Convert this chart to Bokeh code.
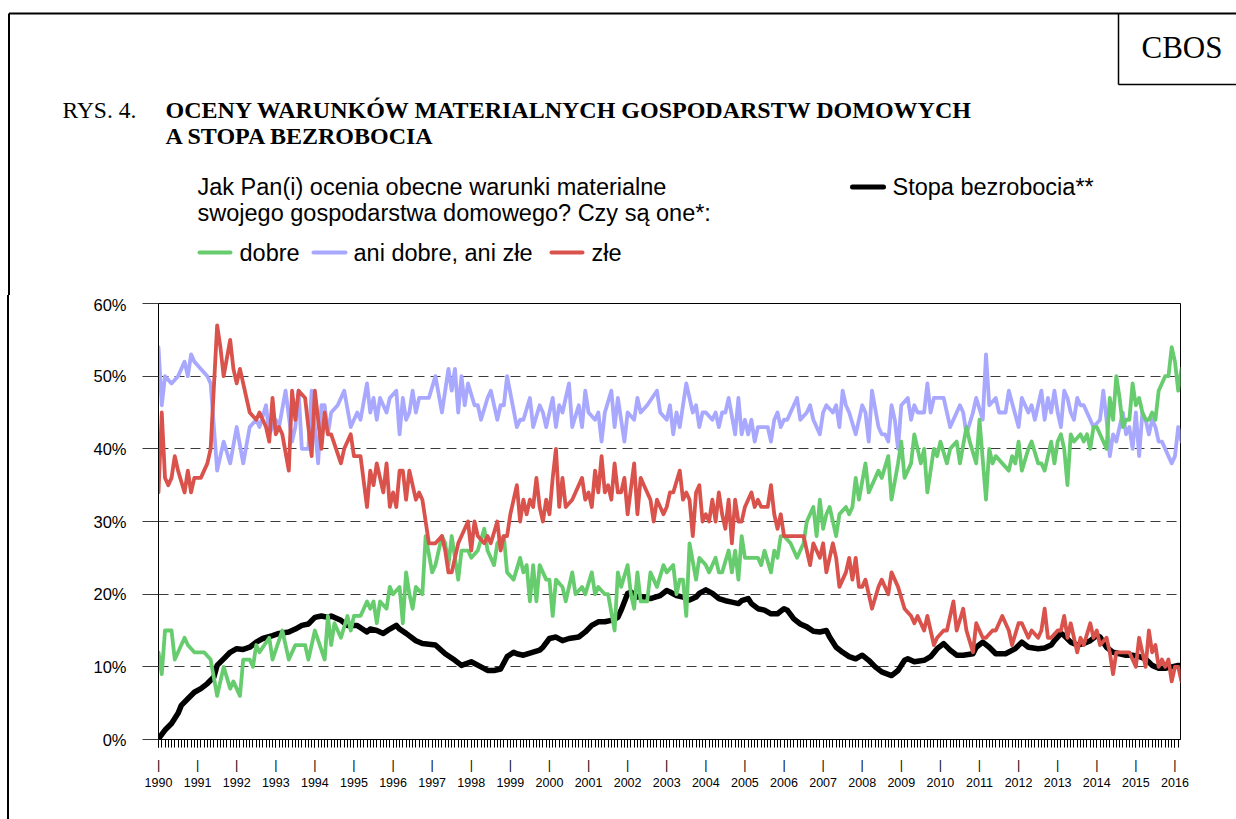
from bokeh.plotting import figure
from bokeh.models import Range1d, FixedTicker, Div
from bokeh.layouts import column, row
from bokeh.core.properties import value
from bokeh.embed import file_html
from bokeh.resources import INLINE

# months counted from January 1990 (0 = Jan 1990), values in percent
DOBRE = [(0,12),(1,9),(2,15),(4,15),(5,11),(8,14),(9,13),(11,12),(14,12),(16,11),(18,6),(20,10),(22,7),(23,8),(25,6),(26,11),(28,11),(29,10),(30,13),(31,12),(34,14),(35,11),(38,15),(40,11),(42,13),(45,13),(46,11),(48,15),
(51,11),(52,17),(53,13),(54,16),(56,14),(58,17),(59,15),(60,17),(62,17),(64,19),(65,18),(66,19),(67,16),(68,19),(70,18),(71,21),(72,20),(74,21),(75,16),(76,23),(77,20),(78,18),(79,21),(81,20),(82,28),(84,23),(85,24),(87,28),(88,27),(89,24),(90,28),(92,22),(93,26),(95,26),(96,25),(98,26),(100,29),(101,26),(103,24),(104,27),(106,28),(107,23),
(109,22),(111,25),(112,23),(113,24),(114,19),(115,24),(116,19),(117,24),(119,22),(120,22),(121,17),(122,22),(124,21),(125,19),(127,23),(128,20),(130,21),(131,20),(133,23),(134,20),(135,21),(137,20),(138,20),(140,15),(141,23),(142,21),(144,24),(145,20),(146,18),(147,23),(148,19),(150,19),(151,23),(153,21),(155,24),(156,23),(158,24),(159,20),(160,22),(161,22),(162,17),(163,27),
(165,22),(166,25),(168,24),(169,23),(171,25),(172,23),(173,23),(175,26),(176,23),(177,26),(178,22),(179,28),(180,25),(182,25),(184,25),(185,24),(186,26),(188,23),(189,26),(190,25),(191,28),(192,28),(194,27),(196,25),(198,27),(199,30),(201,32),(202,28),(203,33),(204,29),(205,31),(206,32),(208,28),(209,31),(211,32),(212,31),(213,32),(214,36),(215,33),(217,38),(218,34),
(221,37),(222,36),(224,39),(225,33),(227,38),(228,41),(229,36),(231,38),(232,42),(234,38),(235,40),(236,34),(238,40),(239,39),(240,41),(242,38),(243,40),(245,41),(246,38),(248,43),(249,41),(251,38),(252,44),(254,33),(255,40),(256,38),(257,39),(259,38),(261,37),(262,39),(263,38),(264,41),(265,37),(267,40),(268,41),(270,38),(271,38),(272,37),(274,41),
(275,38),(276,41),(277,42),(278,40),(279,35),(280,42),(281,41),(283,42),(284,41),(285,42),(286,40),(287,43),(288,43),(290,41),(291,40),(292,47),(293,44),(294,50),(295,47),(296,43),(297,44),(298,44),(299,49),(300,46),(301,47),(302,45),(303,44),(304,44),(305,45),(306,44),(307,48),(308,49),(309,50),(310,50),(311,54),(312,52),(313,48),(314,51)]

ANI = [(0,54),(1,46),(2,50),(4,49),(6,50),(8,52),(9,50),(10,53),(11,52),(13,51),(15,50),(16,49),(18,37),(20,41),(22,38),(24,43),(26,38),(28,43),(30,44),(31,43),(33,46),(34,42),(36,44),(37,43),(39,48),(41,41),(42,43),(43,48),(44,40),(46,40),(47,48),(49,38),(50,46),(51,46),(52,42),(53,45),(55,46),(57,48),(59,43),(61,45),(62,44),(64,49),(65,45),(66,47),(67,44),(68,47),(70,45),(71,47),(73,48),(74,42),(75,47),(76,44),(77,45),(78,48),(79,45),(80,47),(83,47),(85,50),(87,45),(89,51),(90,48),(91,51),(92,45),(93,50),(94,46),(95,49),(97,46),(98,46),(99,44),(101,47),(102,48),(104,44),(105,46),(106,46),(107,50),
(110,43),(111,44),(112,44),(114,47),(115,43),(117,46),(118,45),(119,43),(121,47),(122,43),(123,46),(124,45),(126,49),(127,43),(129,46),(130,43),(131,48),(132,45),(134,44),(135,45),(136,41),(137,45),(139,48),(140,43),(141,47),(143,41),(144,45),(146,44),(147,47),(148,45),(150,46),(153,48),(154,45),(156,44),(157,46),(158,42),(159,45),(160,43),(162,49),(163,47),(164,45),(165,46),(166,43),(167,45),(168,45),(170,44),(171,45),(172,43),(173,45),(174,45),(175,47),(177,42),(178,47),(179,42),(180,44),(181,42),(182,44),(183,41),(184,43),(186,43),(187,43),(188,41),(189,44),(190,45),(191,43),(192,44),(193,44),(195,46),(196,47),(197,44),(199,45),(200,46),(201,44),(203,42),(204,45),(205,46),(207,45),(208,46),(209,43),(210,48),(211,46),(212,45),(214,42),(216,46),(217,45),(218,41),(219,48),
(221,43),(222,42),(223,42),(224,41),(225,46),(226,44),(227,40),(228,46),(230,47),(231,44),(232,46),(233,45),(235,45),(236,49),(237,45),(238,47),(240,47),(241,47),(243,43),(244,44),(246,46),(247,45),(248,42),(250,45),(251,47),(253,44),(254,53),(255,46),(257,47),(258,45),(260,45),(261,48),(264,43),(265,47),(267,45),(268,46),(269,44),(271,48),(272,44),(273,47),(274,45),(275,48),(276,45),(277,43),(278,48),(279,47),(280,45),(281,44),(282,47),(283,46),(284,46),(286,44),(287,43),(289,44),(290,48),(291,44),(292,39),(293,42),(294,41),(295,43),(296,45),(297,42),(298,43),(299,40),(300,45),(301,39),(302,45),(303,44),(304,42),(305,44),(306,43),(307,41),(308,41),(309,40),(310,39),(311,38),(312,39),(313,43),(314,41)]

ZLE = [(0,34),(1,45),(2,36),(3,35),(4,36),(5,39),(6,37),(8,34),(9,37),(10,34),(11,36),(13,36),(14,37),(15,38),(16,40),(18,57),(19,54),(20,50),(22,55),(23,51),(24,49),(25,51),(28,45),(30,44),(31,45),(33,43),(34,41),(35,47),(36,42),(37,43),(38,42),(40,37),(41,48),(42,44),(43,48),(45,47),(47,39),(48,48),(50,40),(51,45),(52,42),(53,42),(56,38),(57,40),(59,42),(60,39),(62,39),(64,32),(65,37),(66,35),(67,38),(68,36),(69,34),(70,38),(71,32),(72,34),(73,32),(74,37),(75,37),(76,33),(77,37),(79,33),(80,34),(81,33),(82,30),(83,27),(85,27),(87,28),(88,26),(89,23),(90,23),(92,27),(93,28),(95,30),(96,26),(97,30),(98,28),(100,27),(101,28),(102,27),(104,30),(105,26),(106,28),(107,28),
(108,31),(110,35),(111,30),(112,33),(113,31),(114,33),(115,32),(116,36),(117,32),(118,30),(119,33),(120,31),(121,36),(122,40),(123,32),(124,36),(125,32),(127,33),(128,34),(130,36),(131,33),(132,34),(133,32),(134,37),(135,34),(136,39),(137,34),(138,35),(139,33),(140,38),(141,34),(142,34),(143,36),(144,31),(146,38),(147,31),(148,36),(149,35),(151,33),(152,30),(153,33),(154,32),(155,31),(156,32),(157,34),(158,34),(160,37),(161,33),(162,34),(163,33),(164,28),
(165,34),(166,35),(167,30),(168,31),(169,30),(170,33),(171,30),(172,34),(173,31),(174,29),(175,33),(176,27),(177,33),(178,30),(179,30),(180,32),(181,33),(182,34),(183,32),(184,33),(185,32),(187,32),(188,35),(189,31),(190,29),(191,31),(192,28),(194,28),(196,28),(198,28),(200,24),(201,27),(203,25),(204,27),(205,23),(207,27),(208,25),(209,21),(211,23),(212,25),(213,22),(214,25),(215,21),(216,21),(217,22),(219,18),
(221,21),(222,22),(224,20),(225,23),(227,21),(229,18),(231,17),(232,16),(233,17),(235,15),(236,17),(238,13),(239,14),(241,15),(242,15),(244,19),(245,15),(247,18),(248,15),(250,12),(251,16),(253,14),(254,14),(256,15),(257,15),(259,17),(261,15),(262,13),(264,16),(265,16),(267,14),(268,15),(270,14),(271,15),(272,18),(273,14),(274,14),
(276,15),(277,15),(278,17),(279,14),(280,16),(281,14),(282,12),(283,14),(284,13),(286,16),(287,14),(288,15),(289,13),(291,14),(292,12),(293,9),(294,12),(295,12),(297,12),(298,12),(299,11),(300,10),(301,14),(302,12),(303,10),(304,15),(305,12),(306,13),(307,10),(308,11),(309,10),(310,11),(311,8),(312,10),(313,10),(314,8)]

BEZROBOCIE = [(0,0.1),(2,1.3),(4,2.2),(6,3.6),(7,4.7),(9,5.6),(11,6.5),(13,7.0),(15,7.7),(17,8.6),(18,10.2),(20,11.1),(22,12.0),(24,12.5),(26,12.4),(28,12.7),(30,13.4),(32,13.9),(35,14.3),(37,14.6),(40,14.8),(42,15.2),(44,15.7),(46,15.9),(48,16.8),(50,17.0),(52,16.8),(53,17.0),(56,16.4),(58,15.7),(61,15.7),(64,14.8),(65,15.2),(67,15.0),(69,14.6),(71,15.2),(73,15.7),(74,15.2),(76,14.6),(79,13.6),(81,13.2),(85,13.0),(88,11.8),(91,10.9),(93,10.2),(96,10.7),(99,10.0),(101,9.5),(103,9.5),(105,9.7),(107,11.4),(109,12.0),(110,11.8),(112,11.6),(114,11.9),(117,12.3),(118,12.7),(120,13.9),(122,14.1),(124,13.6),(126,13.9),(129,14.1),(131,14.8),(133,15.7),(135,16.2),(137,16.2),(139,16.4),(141,16.8),(142,17.8),(144,20.1),(145,20.3),(147,19.6),(149,19.6),(151,19.4),(154,19.8),(156,20.5),(157,20.3),(159,19.8),(161,19.6),(163,19.2),(165,19.6),(166,20.1),(168,20.6),(170,20.1),(172,19.4),(174,19.1),(176,18.9),(178,18.7),(179,19.1),(181,19.4),(182,18.7),(184,18.0),(186,17.8),(188,17.3),(190,17.3),(192,18.0),(193,17.8),(195,16.6),(197,15.9),(199,15.5),(201,14.9),(203,14.8),(205,15.0),(206,14.1),(208,12.7),(210,12.0),(212,11.4),(214,11.1),(216,11.6),(218,10.9),(220,10.0),(222,9.3),(225,8.8),(227,9.5),(229,10.9),(230,11.1),(232,10.7),(235,10.9),(237,11.4),(239,12.5),(241,13.2),(243,12.3),(245,11.6),(247,11.6),(250,11.8),(251,12.7),(253,13.4),(255,12.7),(257,11.8),(260,11.8),(263,12.5),(265,13.4),(267,12.7),(270,12.5),(272,12.6),(274,13.0),(275,13.6),(277,14.6),(278,14.3),(280,13.4),(282,13.0),(284,13.2),(286,13.6),(288,14.3),(289,14.1),(291,12.7),(293,12.0),(295,11.8),(297,11.6),(299,11.6),(301,11.4),(303,11.1),(305,10.2),(307,9.8),(309,9.8),(311,10.0),(313,10.2),(314,10.0)]

YEARS = list(range(1990, 2017))
YEAR_TICKS = [12 * i for i in range(len(YEARS))]
MONTH_TICKS = list(range(0, 314))
Y_TICKS = [0, 10, 20, 30, 40, 50, 60]
Y_LABELS = ["0%", "10%", "20%", "30%", "40%", "50%", "60%"]

C_GREEN = "#66cc6e"
C_LAV = "#a8a8ff"
C_RED = "#d9534c"
C_BLACK = "#000000"
SANS = "Liberation Sans"
SERIF = "Liberation Serif"

W = 1236
HEAD_H = 295
STRIP_W = 10
CHART_H = 819 - HEAD_H

# ---------- header (page pixel coordinates) ----------
h = figure(width=W, height=HEAD_H, x_range=Range1d(0, W), y_range=Range1d(HEAD_H, 0),
           x_axis_type=None, y_axis_type=None, output_backend="svg", toolbar_location=None,
           min_border=0)
h.outline_line_color = None
h.grid.visible = False
h.background_fill_color = "white"
h.border_fill_color = "white"
h.segment(x0=[8.5, 8.5, 1118, 1118], y0=[13, 13, 13, 84], x1=[W, 8.5, 1118, W], y1=[13, HEAD_H, 84, 84],
          line_color="black", line_width=[2, 2, 1.5, 1.5])


def htext(x, y, s, font=SANS, size="23.5px", style="normal"):
    h.text(x=[x], y=[y], text=[s], text_font=value(font), text_font_size=value(size),
           text_font_style=value(style), text_color="black", text_baseline="middle", text_align="left")


htext(1141, 47, "CBOS", font=SERIF, size="31px")
htext(62, 109.5, "RYS. 4.", font=SERIF, size="23.5px")
htext(165, 109.5, "OCENY WARUNKÓW MATERIALNYCH GOSPODARSTW DOMOWYCH", font=SERIF, size="24px", style="bold")
htext(165, 135.5, "A STOPA BEZROBOCIA", font=SERIF, size="24px", style="bold")
htext(197, 186.5, "Jak Pan(i) ocenia obecne warunki materialne")
htext(197, 212.5, "swojego gospodarstwa domowego? Czy są one*:")
htext(892, 186.5, "Stopa bezrobocia**")
htext(239, 252, "dobre")
htext(353, 252, "ani dobre, ani złe")
htext(591, 252, "złe")
h.segment(x0=[852, 199, 313, 551], y0=[186.5, 252, 252, 252], x1=[883, 230, 345, 582], y1=[186.5, 252, 252, 252],
          line_color=[C_BLACK, C_GREEN, C_LAV, C_RED], line_width=[5, 4, 4, 4], line_cap="round")

# ---------- left strip carrying the frame line ----------
strip = Div(text="", width=STRIP_W, height=CHART_H, margin=0,
            styles={"background": "linear-gradient(to right, #ffffff 0px, #ffffff 7.5px, #000000 7.5px, #000000 9.5px, #ffffff 9.5px)"})

# ---------- chart ----------
p = figure(width=W - STRIP_W, height=CHART_H, x_range=Range1d(0, 313.7), y_range=Range1d(0, 60),
           output_backend="svg", toolbar_location=None,
           min_border_left=158 - STRIP_W, min_border_right=W - 158 - 1022,
           min_border_top=303 - HEAD_H, min_border_bottom=CHART_H - (303 - HEAD_H) - 436)
p.background_fill_color = "white"
p.border_fill_color = "white"
p.outline_line_color = "black"
p.outline_line_width = 1
p.xgrid.visible = False
p.ygrid.ticker = FixedTicker(ticks=[10, 20, 30, 40, 50])
p.ygrid.grid_line_color = "#3c3c3c"
p.ygrid.grid_line_dash = "10 6"
p.ygrid.grid_line_width = 1

xa = p.xaxis[0]
xa.ticker = FixedTicker(ticks=YEAR_TICKS, minor_ticks=MONTH_TICKS)
xa.major_label_overrides = {t: "|\n" + str(y) for t, y in zip(YEAR_TICKS, YEARS)}
xa.major_tick_in = 0
xa.major_tick_out = 8
xa.minor_tick_in = 0
xa.minor_tick_out = 8
xa.major_tick_line_color = "black"
xa.minor_tick_line_color = "black"
xa.minor_tick_line_width = 1
xa.axis_line_color = "black"
xa.major_label_text_font = SANS
xa.major_label_text_font_size = "12.5px"
xa.major_label_text_line_height = 1.3
xa.major_label_text_color = "black"
xa.major_label_standoff = 10

ya = p.yaxis[0]
ya.ticker = FixedTicker(ticks=Y_TICKS)
ya.major_label_overrides = {t: l for t, l in zip(Y_TICKS, Y_LABELS)}
ya.major_tick_in = 0
ya.major_tick_out = 16
ya.major_tick_line_color = "#3c3c3c"
ya.minor_tick_line_color = None
ya.axis_line_color = "black"
ya.major_label_text_font = SANS
ya.major_label_text_font_size = "16.5px"
ya.major_label_text_color = "black"
ya.major_label_standoff = 16


def split(pairs):
    return [a for a, b in pairs], [b for a, b in pairs]


for pairs, col, lw in [(BEZROBOCIE, C_BLACK, 5.5), (ANI, C_LAV, 3.8), (DOBRE, C_GREEN, 3.8), (ZLE, C_RED, 3.8)]:
    xs, ys = split(pairs)
    p.line(xs, ys, line_color=col, line_width=lw, line_join="round", line_cap="round")

layout = column(h, row(strip, p, spacing=0), spacing=0)
open("out.html", "w").write(file_html(layout, INLINE))
